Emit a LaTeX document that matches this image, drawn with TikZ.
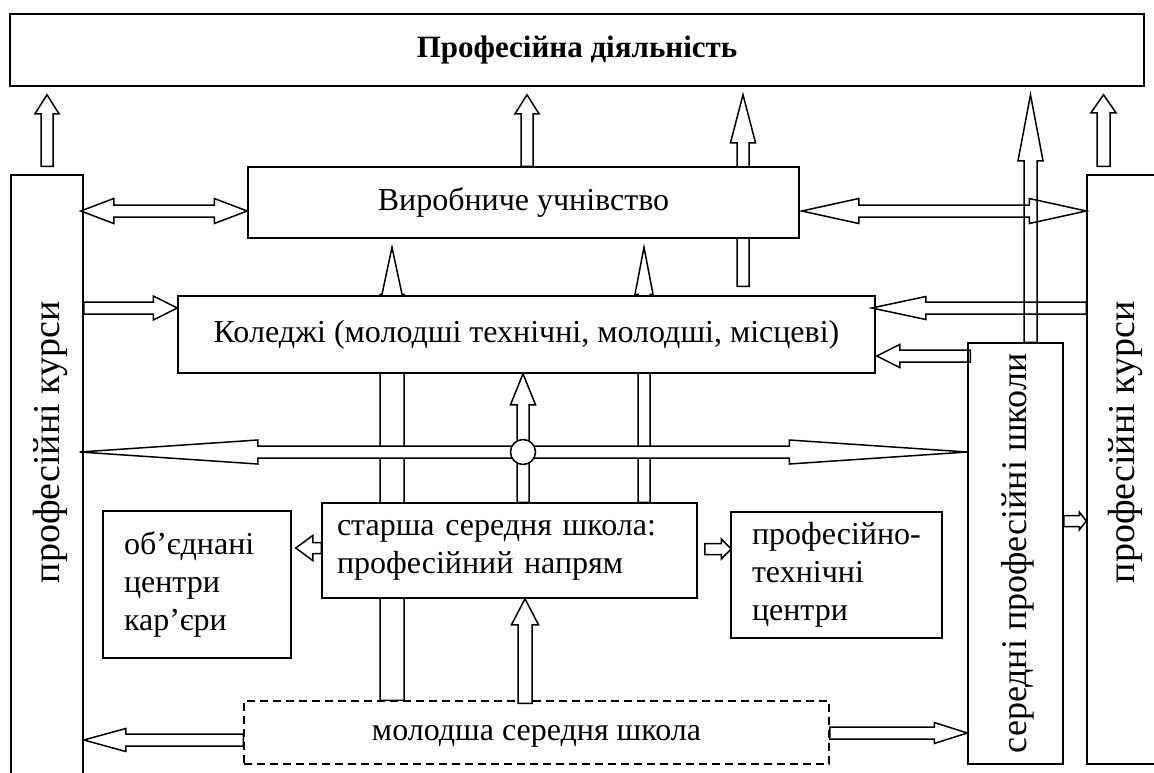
\documentclass[tikz,border=0pt]{standalone}
\usepackage{fontspec}
\setmainfont{Liberation Serif}
\usetikzlibrary{calc,backgrounds}
\tikzset{
  boxnd/.style={draw, fill=white, line width=1.5pt, inner sep=0pt, font=\fontsize{32}{38}\selectfont},
  dashbox/.style={boxnd, dash pattern=on 8pt off 5pt},
  blockln/.style={draw, line width=1.5pt, line join=miter},
  blockfill/.style={blockln, fill=white},
  hubdot/.style={circle, draw, fill=white, line width=1.5pt, minimum size=25pt, inner sep=0pt},
  sidetxt/.style={rotate=90, font=\fontsize{38}{44}\selectfont},
}
% hollow block arrow: [style]{start}{tip}{shaft half width}{head half width}{head length}
\newcommand{\blockarrow}[6][]{%
  \path[blockln,#1] ($(#2)!#4!90:(#3)$)
    -- ($($(#3)!#6!(#2)$)!#4!90:(#3)$)
    -- ($($(#3)!#6!(#2)$)!#5!90:(#3)$)
    -- (#3)
    -- ($($(#3)!#6!(#2)$)!#5!-90:(#3)$)
    -- ($($(#3)!#6!(#2)$)!#4!-90:(#3)$)
    -- ($(#2)!#4!-90:(#3)$) -- cycle;}
% double headed version: [style]{tip}{tip}{shaft half width}{head half width}{head length}
\newcommand{\blockdarrow}[6][]{%
  \path[blockln,#1] (#2)
    -- ($($(#2)!#6!(#3)$)!#5!90:(#3)$)
    -- ($($(#2)!#6!(#3)$)!#4!90:(#3)$)
    -- ($($(#3)!#6!(#2)$)!#4!-90:(#2)$)
    -- ($($(#3)!#6!(#2)$)!#5!-90:(#2)$)
    -- (#3)
    -- ($($(#3)!#6!(#2)$)!#5!90:(#2)$)
    -- ($($(#3)!#6!(#2)$)!#4!90:(#2)$)
    -- ($($(#2)!#6!(#3)$)!#4!-90:(#3)$)
    -- ($($(#2)!#6!(#3)$)!#5!-90:(#3)$) -- cycle;}

\begin{document}
\begin{tikzpicture}[x=1pt, y=-1pt]
  \clip (0,0) rectangle (1154,772);
  % boxes
  \node[boxnd, minimum width=1134pt, minimum height=72pt, font=\fontsize{31}{36}\selectfont\bfseries]
    (top) at (577,50) {Професійна діяльність};
  \node[boxnd, minimum width=72pt, minimum height=625pt] (lcourse) at (47,487.5) {};
  \node[boxnd, minimum width=88pt, minimum height=589pt] (rcourse) at (1131,469.5) {};
  \node[boxnd, minimum width=551pt, minimum height=71pt] (vyrob) at (523.5,202.5) {Виробниче учнівство};
  \node[boxnd, minimum width=697pt, minimum height=77pt] (koledzh) at (526.5,334.5)
    {Коледжі (молодші технічні, молодші, місцеві)};
  \node[boxnd, minimum height=95pt, text width=345pt, inner xsep=15pt, align=left]
    (starsha) at (509.5,550.5) {старша середня школа:\\професійний напрям};
  \node[boxnd, minimum height=147pt, text width=146pt, inner xsep=21pt, align=left]
    (obyed) at (197,584.5) {об’єднані\\центри\\кар’єри};
  \node[boxnd, minimum height=126pt, text width=169pt, inner xsep=21pt, align=left]
    (proftekh) at (836.5,575) {професійно-\\технічні\\центри};
  \node[dashbox, minimum width=585pt, minimum height=63pt, text depth=0pt] (molod) at (536.5,732.5)
    {молодша середня школа};
  \node[boxnd, minimum width=95pt, minimum height=421pt] (seredni) at (1015.5,553.5) {};
  \node[sidetxt] at ($(lcourse.north)+(3,268)$) {професійні курси};
  \node[sidetxt] at ($(rcourse.north)+(-6,268)$) {професійні курси};
  \node[sidetxt, font=\fontsize{36}{42}\selectfont] at ($(seredni.center)+(2,0)$) {середні професійні школи};

  % arrows running behind the boxes
  \begin{scope}[on background layer]
    \blockarrow{$(koledzh.north)+(216.5,-9)$}{$(koledzh.north |- top.south)+(216.5,8)$}{6pt}{12.5pt}{48pt}
    \blockarrow[blockfill]{$(molod.north)+(-144.5,0)$}{$(koledzh.north)+(-134.5,-48)$}{12pt}{10pt}{47pt}
    \blockarrow[blockfill]{$(starsha.north)+(134.5,0)$}{$(koledzh.north)+(117.5,-48)$}{6pt}{9pt}{47pt}
  \end{scope}

  % up to the top box
  \blockarrow{$(lcourse.north)+(0,-8)$}{$(lcourse.north |- top.south)+(0,8)$}{6pt}{12pt}{19pt}
  \blockarrow{$(vyrob.north)+(3.5,0)$}{$(vyrob.north |- top.south)+(3.5,8)$}{6pt}{12pt}{19pt}
  \blockarrow{$(seredni.north)+(15,0)$}{$(seredni.north |- top.south)+(15,8)$}{6.5pt}{12.5pt}{66pt}
  \blockarrow{$(rcourse.north)+(-27.5,-8)$}{$(rcourse.north |- top.south)+(-27.5,8)$}{6.5pt}{12.5pt}{18pt}

  % side links
  \blockdarrow{$(lcourse.east |- vyrob.west)+(-3,8.5)$}{$(vyrob.west)+(0,8.5)$}{6pt}{12.5pt}{33pt}
  \blockdarrow{$(vyrob.east)+(2,8.5)$}{$(rcourse.west |- vyrob.east)+(0,8.5)$}{6pt}{12.5pt}{57pt}
  \blockarrow{$(lcourse.east |- koledzh.west)+(0,-26.5)$}{$(koledzh.west)+(0,-26.5)$}{6pt}{12pt}{24pt}
  \blockarrow{$(rcourse.west |- koledzh.east)+(0,-26.5)$}{$(koledzh.east)+(-4,-26.5)$}{6pt}{11.5pt}{54pt}
  \blockarrow{$(seredni.west |- koledzh.east)+(3,21.5)$}{$(koledzh.east)+(1,21.5)$}{6pt}{11.5pt}{23pt}

  % the crossing in the middle
  \coordinate (hub) at (523,452);
  \blockdarrow[blockfill]{$(lcourse.east |- hub)+(-4,0)$}{seredni.west |- hub}{6pt}{12pt}{178pt}
  \blockarrow[blockfill]{$(starsha.north)+(13.5,0)$}{$(starsha.north |- koledzh.south)+(13.5,0)$}{6pt}{12.5pt}{31pt}
  \node[hubdot] (hubc) at (hub) {};

  % from the schools
  \blockarrow[blockfill]{$(molod.north)+(-11.5,3)$}{$(starsha.south)+(15.5,0)$}{7pt}{13.5pt}{26pt}
  \blockarrow{$(starsha.west)+(0,-2.5)$}{$(obyed.east)+(4,-36.5)$}{5.5pt}{12.5pt}{17pt}
  \blockarrow{$(starsha.east)+(7,-1.5)$}{$(proftekh.west)+(1,-26)$}{5.5pt}{10pt}{10pt}
  \blockarrow{$(molod.west)+(0,7.5)$}{$(lcourse.east |- molod.west)+(0,7.5)$}{6pt}{11.5pt}{42pt}
  \blockarrow{$(molod.east)+(0,0.5)$}{$(seredni.west |- molod.east)+(0,0.5)$}{6pt}{10.5pt}{33pt}
  \blockarrow{$(seredni.east)+(0,-32.5)$}{$(rcourse.west |- seredni.east)+(0,-32.5)$}{5.5pt}{9pt}{7pt}
\end{tikzpicture}
\end{document}
